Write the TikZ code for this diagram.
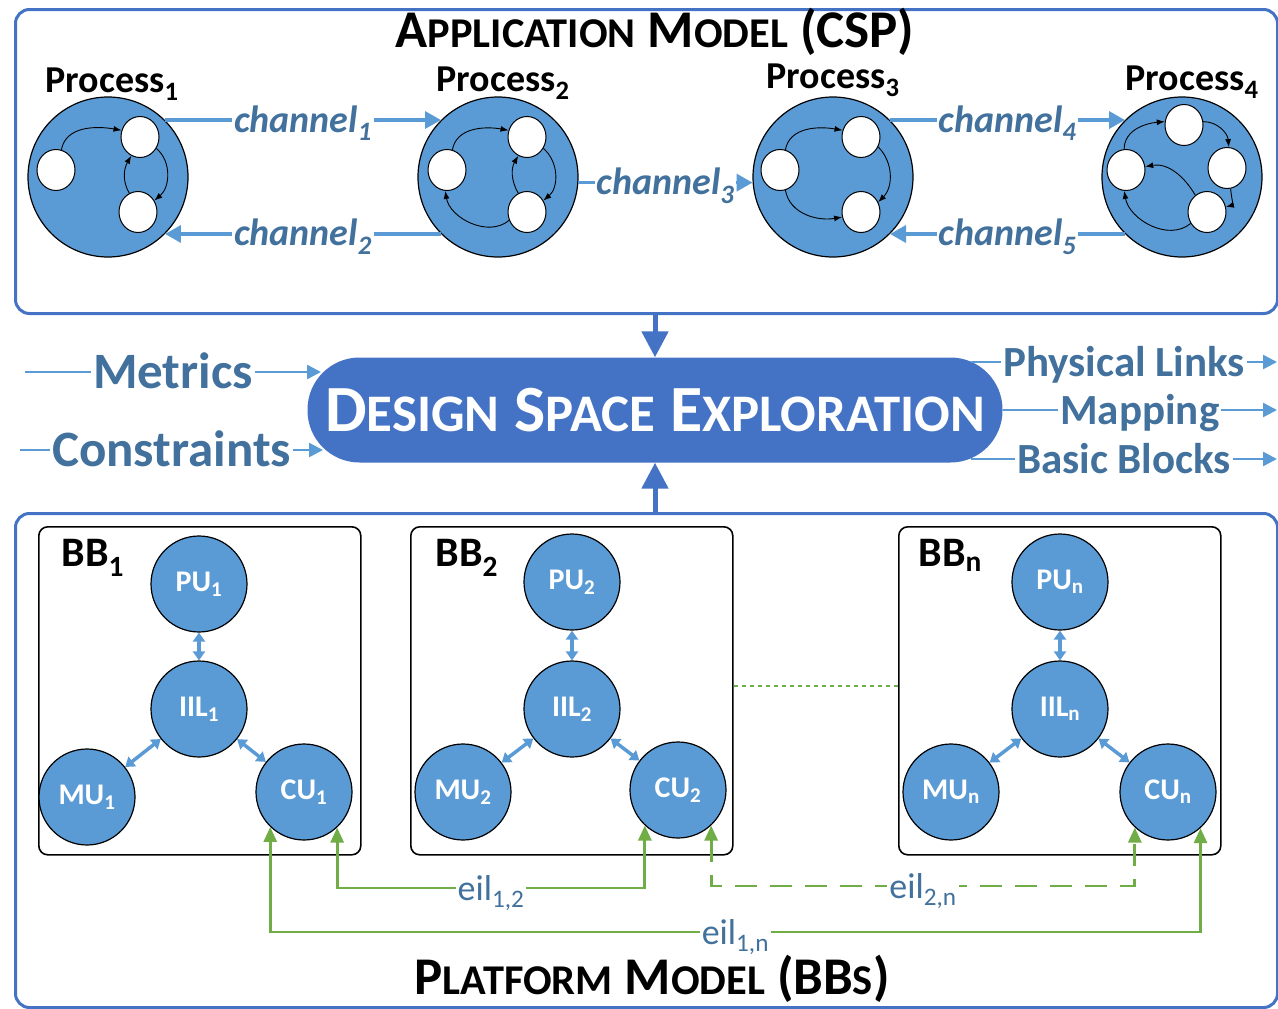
\documentclass[tikz,border=0pt]{standalone}
\usepackage{fontspec}
\setmainfont{Carlito}
\usepackage{graphicx}
\usetikzlibrary{arrows.meta,shapes.geometric}

\definecolor{frameblue}{HTML}{4472C4}
\definecolor{fillblue}{HTML}{5B9BD5}
\definecolor{labelblue}{HTML}{41719C}
\definecolor{linkgreen}{HTML}{70AD47}

% small-caps look: lower letters as shrunken capitals
\newcommand\smc[1]{\scalebox{0.8}{#1}}
\newcommand\setfs[1]{\fontsize{#1}{#1}\selectfont}

\tikzset{
  panel/.style={draw=frameblue, line width=3pt, rounded corners=14pt, inner sep=0pt, anchor=north west},
  paneltitle/.style={anchor=base, font=\setfs{53}\bfseries},
  proc/.style={circle, draw=black, line width=1.2pt, fill=fillblue, minimum size=160pt, inner sep=0pt},
  task/.style={ellipse, draw=black, line width=1pt, fill=white, minimum width=38pt, minimum height=41pt, inner sep=0pt},
  flow/.style={black, line width=0.9pt, -{Latex[length=8pt,width=6pt]}},
  procname/.style={anchor=base, font=\setfs{38}\bfseries},
  chan/.style={fillblue, line width=3.5pt, -{Triangle[length=16pt,width=17pt]}},
  channame/.style={fill=white, inner sep=2pt, text=labelblue, text height=24pt, text depth=0pt, font=\setfs{38}\bfseries\itshape},
  dsebox/.style={fill=frameblue, rounded corners=52pt, minimum width=695pt, minimum height=105pt, inner sep=0pt, text=white, font=\setfs{66}\bfseries},
  bigarrow/.style={frameblue, line width=5pt, -{Triangle[length=26pt,width=26pt]}},
  ioarrow/.style={fillblue, line width=2.5pt, -{Triangle[length=14pt,width=14pt]}},
  ioname/.style={fill=white, inner sep=2pt, text=labelblue, text depth=0pt},
  bbbox/.style={draw=black, line width=1.6pt, rounded corners=9pt, anchor=north west, minimum width=322pt, minimum height=328pt, inner sep=0pt},
  bbname/.style={anchor=base west, font=\setfs{42}\bfseries},
  unit/.style={circle, draw=black, line width=1.2pt, fill=fillblue, minimum size=96pt, inner sep=0pt, text=white, font=\setfs{30}\bfseries},
  bus/.style={fillblue, line width=3.5pt, {Triangle[length=9pt,width=12pt]}-{Triangle[length=9pt,width=12pt]}},
  eil/.style={linkgreen, line width=2.8pt, {Triangle[length=15pt,width=13pt]}-{Triangle[length=15pt,width=13pt]}},
  eilname/.style={fill=white, inner sep=2pt, text=labelblue, text height=24pt, text depth=0pt, font=\setfs{36}},
}

\begin{document}
\begin{tikzpicture}[x=1pt,y=1pt]
\useasboundingbox (0,0) rectangle (1278,-1009);

% ---------- application model ----------
\node[panel, minimum width=1262pt, minimum height=304pt] (app) at (14,-8) {};
\node[paneltitle] (appt) at (655,-47) {A\smc{PPLICATION} M\smc{ODEL} (CSP)};

\node[proc] (p1) at (108,-177) {};
\node[proc] (p2) at (498,-177) {};
\node[proc] (p3) at (833,-177) {};
\node[proc] (p4) at (1182,-177) {};

\node[procname] (p1n) at (112,-92) {Process\textsubscript{1}};
\node[procname] (p2n) at (503,-91) {Process\textsubscript{2}};
\node[procname] (p3n) at (833,-88) {Process\textsubscript{3}};
\node[procname] (p4n) at (1192,-90) {Process\textsubscript{4}};

% tasks inside the processes
\node[task] (a1) at (56,-170) {};
\node[task] (b1) at (140,-137) {};
\node[task] (c1) at (138,-212) {};
\node[task] (a2) at (447,-170) {};
\node[task] (b2) at (527,-137) {};
\node[task] (c2) at (527,-212) {};
\node[task] (a3) at (780,-170) {};
\node[task] (b3) at (861,-137) {};
\node[task] (c3) at (861,-212) {};
\node[task] (t4) at (1184,-125) {};
\node[task] (r4) at (1227,-168) {};
\node[task] (l4) at (1126,-170) {};
\node[task] (q4) at (1207,-212) {};

\draw[flow] (a1.75) to[out=80,in=170] (b1.160);
\draw[flow] (c1.115) to[out=120,in=240] (b1.245);
\draw[flow] (b1.-35) to[out=-40,in=40] (c1.35);

\draw[flow] (a2.75) to[out=80,in=170] (b2.160);
\draw[flow] (c2.115) to[out=120,in=240] (b2.245);
\draw[flow] (b2.-35) to[out=-40,in=40] (c2.35);
\draw[flow] (c2.205) to[out=220,in=-80] (a2.-95);

\draw[flow] (a3.75) to[out=80,in=170] (b3.160);
\draw[flow] (b3.-30) to[out=-45,in=45] (c3.30);
\draw[flow] (a3.-75) to[out=-80,in=190] (c3.195);

\draw[flow] (l4.95) to[out=90,in=185] (t4.170);
\draw[flow] (t4.10) to[out=0,in=95] (r4.85);
\draw[flow] (r4.-80) to[out=-85,in=15] (q4.15);
\draw[flow] (q4.125) to[out=120,in=10] (l4.10);
\draw[flow] (q4.215) to[out=220,in=-80] (l4.-95);

% channels
\draw[chan] (p1.45) -- node[channame] {channel\textsubscript{1}} (p2.135);
\draw[chan] (p2.-135) -- node[channame] {channel\textsubscript{2}} (p1.-45);
\draw[chan] (p2.-4) -- node[channame] {channel\textsubscript{3}} (p3.184);
\draw[chan] (p3.45) -- node[channame] {channel\textsubscript{4}} (p4.135);
\draw[chan] (p4.-135) -- node[channame] {channel\textsubscript{5}} (p3.-45);

% ---------- design space exploration ----------
\node[panel, minimum width=1262pt, minimum height=494pt] (plat) at (14,-512) {};
\node[dsebox] (dse) at (655,-410) {D\smc{ESIGN} S\smc{PACE} E\smc{XPLORATION}};

\draw[bigarrow] (app.south -| dse.north) -- (dse.north);
\draw[bigarrow] (plat.north -| dse.south) -- (dse.south);

\coordinate (metA) at (25,-372);
\coordinate (metB) at (321,-372);
\coordinate (conA) at (20,-450);
\coordinate (conB) at (323,-450);
\draw[ioarrow] (metA) -- node[ioname, font=\setfs{51}\bfseries, text height=33pt] {Metrics} (metB);
\draw[ioarrow] (conA) -- node[ioname, font=\setfs{51}\bfseries, text height=33pt] {Constraints} (conB);

\coordinate (phA) at (971,-362);
\coordinate (phB) at (1277,-362);
\coordinate (mapB) at (1277,-410);
\coordinate (blA) at (971,-459);
\coordinate (blB) at (1277,-459);
\draw[ioarrow] (phA) -- node[ioname, font=\setfs{43}\bfseries, text height=28pt] {Physical Links} (phB);
\draw[ioarrow] (dse.east) -- node[ioname, font=\setfs{43}\bfseries, text height=28pt] {Mapping} (mapB);
\draw[ioarrow] (blA) -- node[ioname, font=\setfs{43}\bfseries, text height=28pt] {Basic Blocks} (blB);

% ---------- platform model ----------
\node[paneltitle] (platt) at (652,-994) {P\smc{LATFORM} M\smc{ODEL} (BB\smc{S})};

\node[bbbox] (bb1) at (38,-526) {};
\node[bbbox] (bb2) at (410,-526) {};
\node[bbbox] (bbn) at (898,-526) {};
\node[bbname] (bb1n) at (58,-566) {BB\textsubscript{1}};
\node[bbname] (bb2n) at (432,-566) {BB\textsubscript{2}};
\node[bbname] (bbnn) at (915,-566) {BB\textsubscript{n}};

\node[unit] (pu1) at (199,-584) {PU\textsubscript{1}};
\node[unit] (iil1) at (199,-709) {IIL\textsubscript{1}};
\node[unit] (mu1) at (87,-797) {MU\textsubscript{1}};
\node[unit] (cu1) at (304,-792) {CU\textsubscript{1}};

\node[unit] (pu2) at (572,-582) {PU\textsubscript{2}};
\node[unit] (iil2) at (572,-709) {IIL\textsubscript{2}};
\node[unit] (mu2) at (463,-792) {MU\textsubscript{2}};
\node[unit] (cu2) at (678,-790) {CU\textsubscript{2}};

\node[unit] (pun) at (1060,-582) {PU\textsubscript{n}};
\node[unit] (iiln) at (1060,-709) {IIL\textsubscript{n}};
\node[unit] (mun) at (951,-792) {MU\textsubscript{n}};
\node[unit] (cun) at (1168,-792) {CU\textsubscript{n}};

\foreach \k in {1,2,n}{
  \draw[bus] (pu\k) -- (iil\k);
  \draw[bus] (iil\k) -- (mu\k);
  \draw[bus] (iil\k) -- (cu\k);
}

% links between basic blocks
\coordinate (yA) at (0,-888);
\coordinate (yB) at (0,-932);
\coordinate (yC) at (0,-886);
\coordinate (yD) at (0,-686);
\draw[eil] (cu1.-47) -- (cu1.-47 |- yA) -- node[eilname] {eil\textsubscript{1,2}} (cu2.-133 |- yA) -- (cu2.-133);
\draw[eil] (cu1.-134) -- (cu1.-134 |- yB) -- node[eilname] {eil\textsubscript{1,n}} (cun.-48 |- yB) -- (cun.-48);
\draw[eil, dash pattern=on 22pt off 13pt] (cu2.-47) -- (cu2.-47 |- yC) -- node[eilname] {eil\textsubscript{2,n}} (cun.-133 |- yC) -- (cun.-133);
\draw[linkgreen, line width=2.8pt, dash pattern=on 4pt off 4pt] (bb2.east |- yD) -- (bbn.west |- yD);
\end{tikzpicture}
\end{document}
